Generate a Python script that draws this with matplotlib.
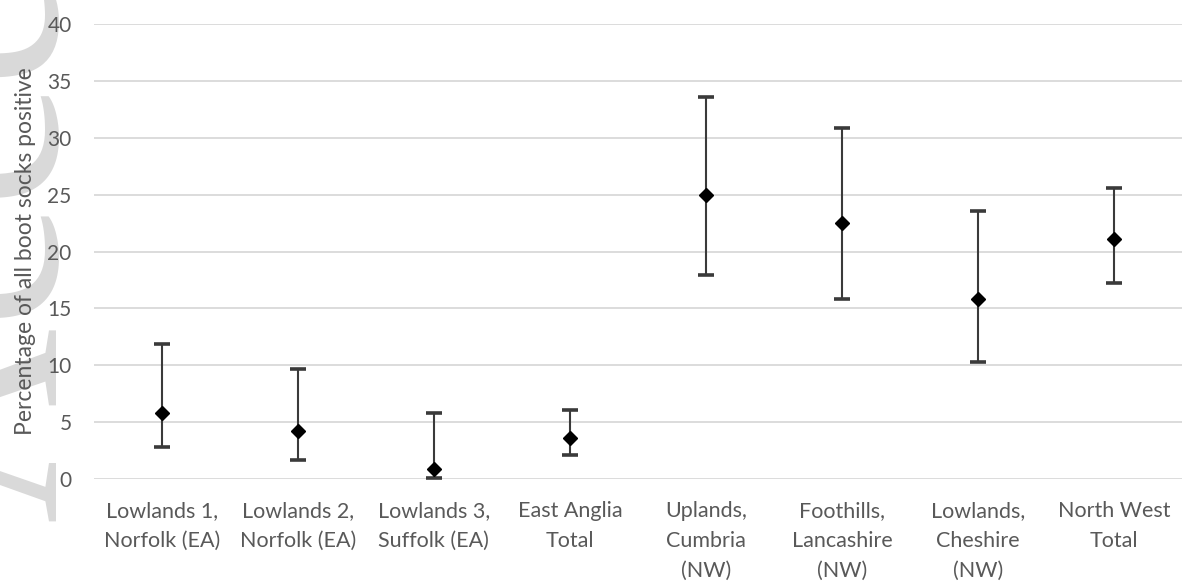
import matplotlib
matplotlib.use("Agg")
import matplotlib.pyplot as plt
import numpy as np

# Values (percent of boot socks positive, with CI)
categories = ["Lowlands 1,\nNorfolk (EA)", "Lowlands 2,\nNorfolk (EA)", "Lowlands 3,\nSuffolk (EA)",
              "East Anglia\nTotal", "Uplands,\nCumbria\n(NW)", "Foothills,\nLancashire\n(NW)",
              "Lowlands,\nCheshire\n(NW)", "North West\nTotal"]
percent = [5.8, 4.2, 0.85, 3.6, 25.0, 22.5, 15.8, 21.1]
lower = [2.8, 1.7, 0.1, 2.1, 17.9, 15.8, 10.3, 17.2]
upper = [11.9, 9.7, 5.8, 6.1, 33.6, 30.9, 23.6, 25.6]

plt.rcParams['font.family'] = ['Lato', 'DejaVu Sans']

fig = plt.figure(figsize=(11.89, 5.81), dpi=100)
ax = fig.add_axes([0.079, 0.1756, 0.915, 0.783])

# faint watermark on the left edge (behind everything)
fig.text(57 / 1189, 1 - 523 / 581, "Accepted Article", rotation=90, rotation_mode='anchor',
         fontsize=195, family='Liberation Serif', color='#d9d9d9',
         ha='left', va='baseline', zorder=-5)

x = np.arange(len(categories))
pct = np.array(percent)
yerr = [pct - np.array(lower), np.array(upper) - pct]
ax.errorbar(x, pct, yerr=yerr, fmt='D', color='black', ms=7.5,
            ecolor='#3a3a3a', elinewidth=1.5, capsize=5.8, capthick=2.6, clip_on=False, zorder=3)

ax.set_xlim(-0.5, len(categories) - 0.5)
ax.set_ylim(0, 40)
ax.set_yticks(range(0, 41, 5))
ax.set_xticks(x)
ax.set_xticklabels(categories, linespacing=1.62)
ax.yaxis.grid(True, color='#d9d9d9', linewidth=1.3)
ax.set_axisbelow(True)
for s in ax.spines.values():
    s.set_visible(False)
ax.tick_params(axis='both', length=0, labelsize=15.5, labelcolor='#595959')
ax.tick_params(axis='y', labelsize=15, pad=16)
ax.tick_params(axis='x', pad=16)
ax.set_ylabel("Percentage of all boot socks positive", fontsize=16.5, color='#595959')
ax.yaxis.set_label_coords(-0.053, 0.5)
ax.patch.set_alpha(0)

fig.savefig("out.png", dpi=100)
